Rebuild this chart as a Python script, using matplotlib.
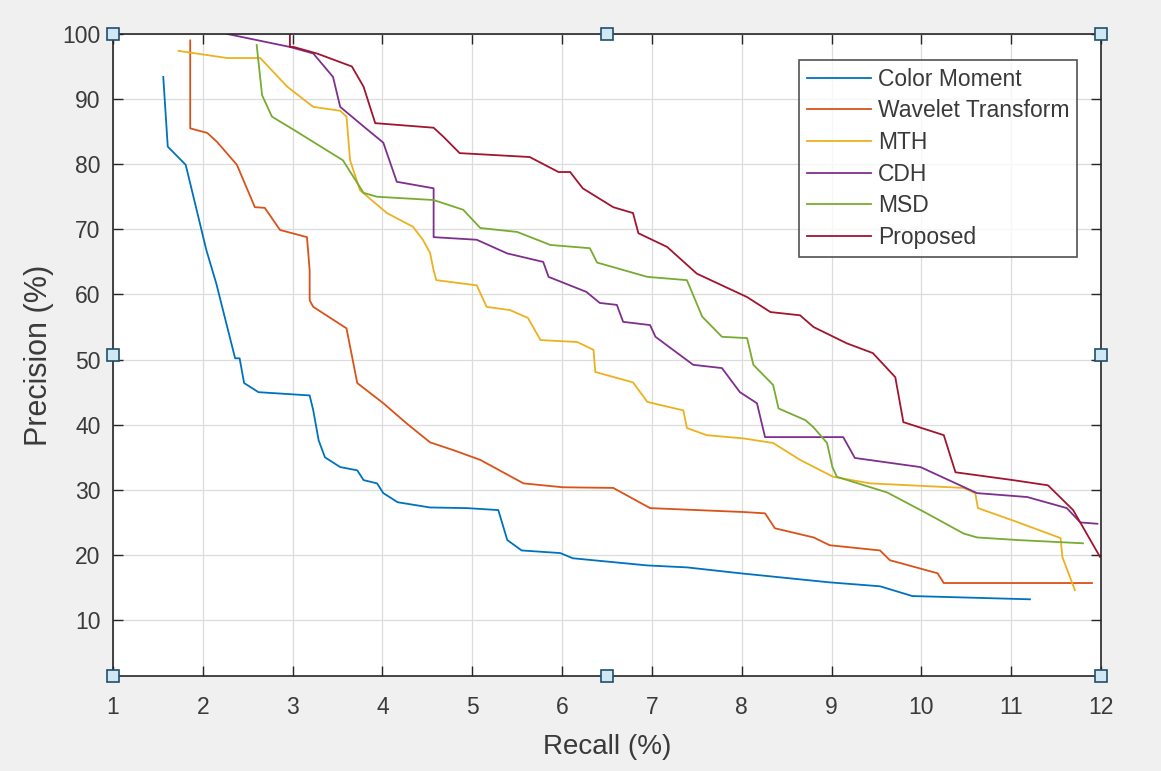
import matplotlib

matplotlib.use("Agg")
import matplotlib.pyplot as plt

# Precision-recall curves (recall %, precision %)
cm_x = [1.56, 1.61, 1.81, 2.04, 2.15, 2.36, 2.41, 2.46, 2.62, 3.19, 3.23, 3.29, 3.36, 3.53,
        3.72, 3.79, 3.94, 4.01, 4.17, 4.53, 4.94, 5.29, 5.39, 5.55, 5.98, 6.12, 6.95, 7.39,
        7.98, 8.98, 9.54, 9.90, 11.21]
cm_y = [93.4, 82.7, 79.9, 66.8, 61.7, 50.2, 50.2, 46.4, 45.0, 44.5, 42.2, 37.6, 35.0, 33.5,
        33.0, 31.5, 31.0, 29.5, 28.1, 27.3, 27.2, 26.9, 22.3, 20.7, 20.3, 19.5, 18.4, 18.1,
        17.2, 15.8, 15.2, 13.7, 13.2]

wt_x = [1.86, 1.86, 2.05, 2.16, 2.38, 2.58, 2.69, 2.86, 3.16, 3.19, 3.19, 3.23, 3.60, 3.72,
        4.01, 4.27, 4.53, 4.79, 5.09, 5.57, 6.01, 6.57, 6.98, 8.02, 8.26, 8.37, 8.80, 8.98,
        9.54, 9.65, 10.18, 10.25, 11.90]
wt_y = [99.0, 85.5, 84.8, 83.4, 79.9, 73.4, 73.3, 69.9, 68.8, 63.7, 59.1, 58.1, 54.8, 46.4,
        43.3, 40.2, 37.3, 36.1, 34.6, 31.0, 30.4, 30.3, 27.2, 26.6, 26.4, 24.1, 22.7, 21.5,
        20.7, 19.2, 17.2, 15.7, 15.7]

mth_x = [1.73, 2.27, 2.64, 2.94, 3.23, 3.53, 3.60, 3.64, 3.75, 4.05, 4.34, 4.45, 4.53, 4.57,
         4.60, 5.05, 5.16, 5.42, 5.62, 5.76, 6.17, 6.35, 6.37, 6.79, 6.95, 7.35, 7.39, 7.61,
         8.02, 8.35, 8.65, 9.02, 9.43, 10.47, 10.60, 10.63, 11.02, 11.55, 11.57, 11.71]
mth_y = [97.4, 96.3, 96.3, 91.9, 88.8, 88.2, 87.3, 80.6, 76.0, 72.5, 70.4, 68.4, 66.4, 63.7,
         62.2, 61.4, 58.1, 57.6, 56.4, 53.0, 52.7, 51.5, 48.1, 46.5, 43.5, 42.2, 39.5, 38.4,
         37.9, 37.2, 34.6, 32.0, 31.0, 30.3, 29.5, 27.2, 25.3, 22.6, 19.7, 14.6]

cdh_x = [2.27, 2.97, 3.23, 3.45, 3.53, 3.79, 4.01, 4.16, 4.57, 4.57, 5.05, 5.39, 5.79, 5.85,
         6.27, 6.42, 6.61, 6.68, 6.98, 7.04, 7.46, 7.78, 7.98, 8.17, 8.26, 9.13, 9.26, 9.99,
         10.62, 11.18, 11.62, 11.77, 11.96]
cdh_y = [100.0, 98.0, 97.0, 93.4, 88.8, 85.8, 83.3, 77.3, 76.3, 68.8, 68.4, 66.3, 65.0, 62.7,
         60.4, 58.7, 58.4, 55.8, 55.3, 53.5, 49.2, 48.7, 45.0, 43.3, 38.1, 38.1, 34.9, 33.5,
         29.5, 28.9, 27.2, 25.0, 24.8]

msd_x = [2.60, 2.66, 2.77, 3.01, 3.56, 3.79, 3.94, 4.57, 4.90, 5.09, 5.50, 5.87, 6.31, 6.39,
         6.95, 7.39, 7.56, 7.78, 8.06, 8.13, 8.35, 8.41, 8.71, 8.80, 8.95, 9.01, 9.06, 9.62,
         10.06, 10.47, 10.62, 11.07, 11.80]
msd_y = [98.3, 90.6, 87.3, 85.3, 80.6, 75.6, 75.0, 74.5, 73.0, 70.2, 69.6, 67.6, 67.1, 64.9,
         62.7, 62.2, 56.6, 53.5, 53.3, 49.2, 46.1, 42.5, 40.7, 39.6, 37.2, 33.5, 32.0, 29.6,
         26.4, 23.3, 22.7, 22.3, 21.8]

prop_x = [2.97, 2.97, 3.01, 3.27, 3.66, 3.79, 3.92, 4.57, 4.68, 4.86, 5.64, 5.96, 6.09, 6.23,
          6.57, 6.79, 6.85, 7.17, 7.50, 8.06, 8.32, 8.65, 8.80, 9.17, 9.46, 9.71, 9.80, 10.25,
          10.38, 11.02, 11.41, 11.69, 11.99]
prop_y = [100.0, 98.0, 98.0, 97.0, 95.0, 91.9, 86.3, 85.6, 84.2, 81.7, 81.1, 78.8, 78.8, 76.3,
          73.4, 72.5, 69.4, 67.3, 63.2, 59.6, 57.3, 56.8, 55.0, 52.5, 51.0, 47.3, 40.4, 38.4,
          32.7, 31.5, 30.7, 26.9, 19.7]

series = [
    ("Color Moment", cm_x, cm_y, "#0072BD"),
    ("Wavelet Transform", wt_x, wt_y, "#D95319"),
    ("MTH", mth_x, mth_y, "#EDB120"),
    ("CDH", cdh_x, cdh_y, "#7E2F8E"),
    ("MSD", msd_x, msd_y, "#77AC30"),
    ("Proposed", prop_x, prop_y, "#A2142F"),
]

BG = "#f0f0f0"
AX_COL = "#262626"
TXT_COL = "#3a3a3a"

plt.rcParams["font.family"] = ["Liberation Sans", "DejaVu Sans"]

fig = plt.figure(figsize=(11.61, 7.71), dpi=100, facecolor=BG)
ax = fig.add_axes([0.0973, 0.123, 0.851, 0.833])
ax.set_facecolor("white")

for label, xs, ys, col in series:
    ax.plot(xs, ys, color=col, linewidth=1.3, label=label)

ax.set_xlim(1, 12)
ax.set_ylim(1.4, 100)
ax.set_xticks(range(1, 13))
ax.set_yticks(range(10, 101, 10))
ax.grid(True, color="#dcdcdc", linewidth=0.9)
ax.set_axisbelow(True)
ax.tick_params(direction="in", length=7, width=1.0, colors=AX_COL, labelsize=16.5,
               top=True, right=True, labelcolor=TXT_COL)
ax.tick_params(axis="x", pad=14)
ax.tick_params(axis="y", pad=9)
for sp in ax.spines.values():
    sp.set_color(AX_COL)
    sp.set_linewidth(1.2)

ax.set_xlabel("Recall (%)", fontsize=20, color=TXT_COL, labelpad=11)
ax.set_ylabel("Precision (%)", fontsize=22, color=TXT_COL, labelpad=6)

leg = ax.legend(loc="upper right", bbox_to_anchor=(0.976, 0.96), fontsize=16.5,
                frameon=True, fancybox=False, handlelength=2.8, handletextpad=0.3,
                labelspacing=0.38, borderpad=0.35, borderaxespad=0.0)
leg.get_frame().set_edgecolor(AX_COL)
leg.get_frame().set_linewidth(1.2)
for t in leg.get_texts():
    t.set_color(TXT_COL)

# selection handles (figure was captured with the axes selected)
hx = [0, 0.5, 1, 0, 1, 0, 0.5, 1]
hy = [1, 1, 1, 0.5, 0.5, 0, 0, 0]
ax.plot(hx, hy, linestyle="none", marker="s", markersize=8.5, markerfacecolor="#cfe8f3",
        markeredgecolor="#1f4f6a", markeredgewidth=1.2, transform=ax.transAxes,
        clip_on=False, zorder=10)

fig.savefig("out.png", dpi=100, facecolor=BG)
